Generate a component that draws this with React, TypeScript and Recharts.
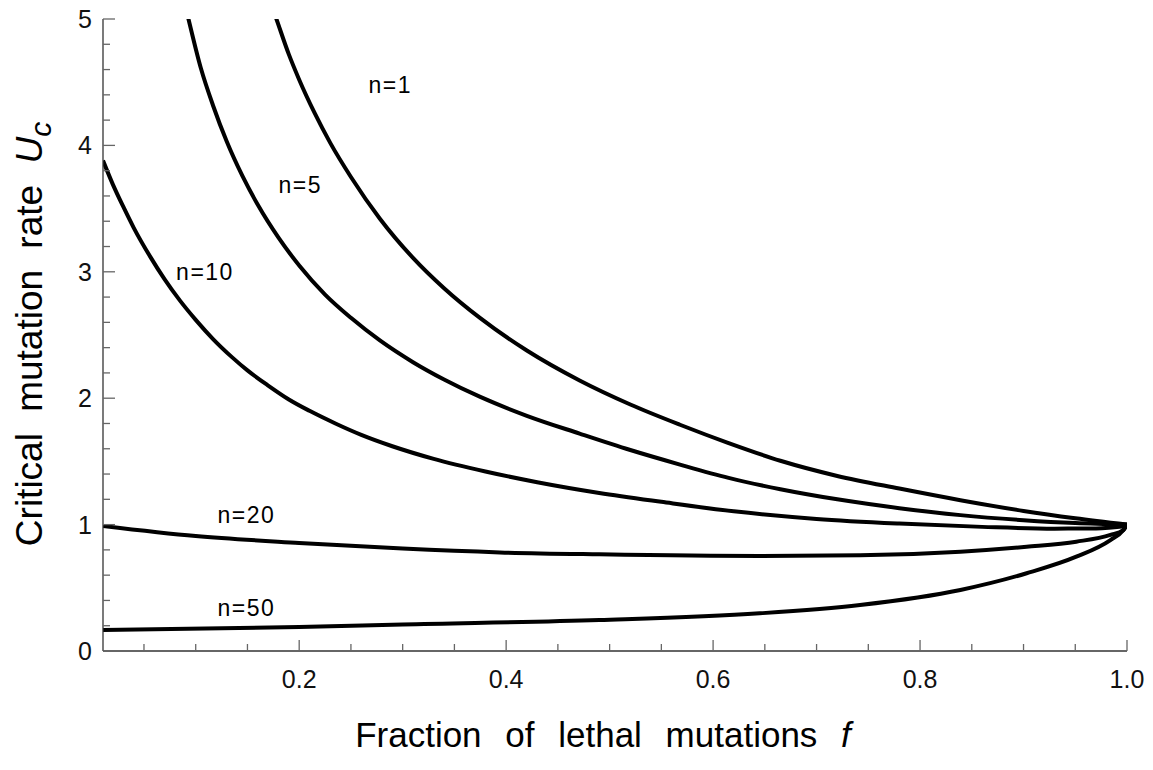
import React from 'react';
import { LineChart, Line, XAxis, YAxis, ReferenceDot, Label } from 'recharts';

// ---- data ----
const seriesNames = ['n=1', 'n=5', 'n=10', 'n=20', 'n=50'];

const n1F = [0.165, 0.178, 0.19, 0.2, 0.215, 0.23, 0.25, 0.278, 0.31, 0.34, 0.375, 0.42, 0.471, 0.52, 0.568, 0.615, 0.665, 0.72, 0.78, 0.839, 0.9, 0.95, 1.0];
const n1U = [5.3, 5.0, 4.72, 4.52, 4.255, 4.02, 3.75, 3.42, 3.11, 2.87, 2.633, 2.377, 2.14, 1.95, 1.79, 1.645, 1.505, 1.385, 1.285, 1.193, 1.108, 1.05, 1.0];

const n5F = [0.08, 0.093, 0.105, 0.117, 0.13, 0.145, 0.16, 0.18, 0.2, 0.225, 0.25, 0.278, 0.31, 0.34, 0.375, 0.42, 0.471, 0.52, 0.568, 0.615, 0.665, 0.72, 0.78, 0.839, 0.9, 0.95, 1.0];
const n5U = [5.45, 5.0, 4.61, 4.31, 4.03, 3.76, 3.53, 3.27, 3.05, 2.82, 2.636, 2.457, 2.285, 2.148, 2.01, 1.861, 1.72, 1.59, 1.475, 1.37, 1.28, 1.2, 1.13, 1.075, 1.035, 1.012, 1.0];

const n10F = [0.0104, 0.02, 0.03, 0.04, 0.056, 0.07, 0.085, 0.1, 0.117, 0.135, 0.15, 0.17, 0.19, 0.21, 0.235, 0.26, 0.29, 0.33, 0.38, 0.43, 0.49, 0.55, 0.62, 0.7, 0.78, 0.86, 0.93, 0.97, 1.0];
const n10U = [3.88, 3.69, 3.515, 3.35, 3.12, 2.94, 2.77, 2.62, 2.466, 2.325, 2.22, 2.1, 1.99, 1.9, 1.8, 1.71, 1.62, 1.52, 1.42, 1.335, 1.25, 1.18, 1.105, 1.045, 1.008, 0.982, 0.968, 0.97, 0.99];

const n20F = [0.0104, 0.1, 0.2, 0.3, 0.394, 0.49, 0.645, 0.742, 0.839, 0.903, 0.951, 0.984, 0.9965, 1.0];
const n20U = [0.99, 0.91, 0.855, 0.81, 0.78, 0.765, 0.752, 0.757, 0.786, 0.825, 0.865, 0.918, 0.957, 1.0];

const n50F = [0.0104, 0.2, 0.3, 0.49, 0.645, 0.742, 0.839, 0.903, 0.951, 0.984, 0.9965, 1.0];
const n50U = [0.166, 0.19, 0.21, 0.245, 0.298, 0.364, 0.483, 0.615, 0.746, 0.878, 0.957, 1.0];

const labelF = [0.288, 0.201, 0.109, 0.149, 0.149];
const labelU = [4.48, 3.69, 3.0, 1.076, 0.34];

const xTicks = [0.05, 0.1, 0.15, 0.2, 0.25, 0.3, 0.35, 0.4, 0.45, 0.5, 0.55, 0.6, 0.65, 0.7, 0.75, 0.8, 0.85, 0.9, 0.95, 1.0];
const yTicks = [0, 0.2, 0.4, 0.6, 0.8, 1, 1.2, 1.4, 1.6, 1.8, 2, 2.2, 2.4, 2.6, 2.8, 3, 3.2, 3.4, 3.6, 3.8, 4, 4.2, 4.4, 4.6, 4.8, 5];

const xTitle = 'Fraction of lethal mutations';
const xTitleVar = 'f';
const yTitle = 'Critical mutation rate';
const yTitleVar = 'U';
const yTitleSub = 'c';

const zip = (fs: number[], us: number[]) => fs.map((f, i) => ({ f, u: us[i] }));
const seriesData = [zip(n1F, n1U), zip(n5F, n5U), zip(n10F, n10U), zip(n20F, n20U), zip(n50F, n50U)];

const FONT = '"Liberation Sans", Arial, Helvetica, sans-serif';
const TICK_COLOR = '#666';
const AXIS_COLOR = '#333';

const XTick = (props: any) => {
  const { x, y, payload } = props;
  const v = payload.value as number;
  const major = Math.abs(v * 5 - Math.round(v * 5)) < 1e-6;
  return (
    <g>
      <line x1={x} y1={y} x2={x} y2={y - (major ? 11 : 7)} stroke={TICK_COLOR} strokeWidth={1.3} />
      {major && (
        <text x={x} y={y + 37} textAnchor="middle" fontSize={25} fill="#111" fontFamily={FONT}>
          {v.toFixed(1)}
        </text>
      )}
    </g>
  );
};

const YTick = (props: any) => {
  const { x, y, payload } = props;
  const v = payload.value as number;
  const major = Math.abs(v - Math.round(v)) < 1e-6;
  return (
    <g>
      <line x1={x} y1={y} x2={x + (major ? 12 : 7)} y2={y} stroke={TICK_COLOR} strokeWidth={1.3} />
      {major && (
        <text x={x - 11} y={y} textAnchor="end" dominantBaseline="central" fontSize={25} fill="#111" fontFamily={FONT}>
          {String(Math.round(v))}
        </text>
      )}
    </g>
  );
};

const XTitle = (props: any) => {
  const vb = props.viewBox || { x: 103, y: 651, width: 1024, height: 119 };
  const cx = vb.x + vb.width / 2 - 12;
  return (
    <text x={cx} y={vb.y + 96} textAnchor="middle" fontSize={35} fill="#000" fontFamily={FONT} style={{ wordSpacing: '14px' }}>
      {xTitle + ' '}
      <tspan fontStyle="italic">{xTitleVar}</tspan>
    </text>
  );
};

const YTitle = () => {
  const bx = 42;
  const cy = 334;
  return (
    <text x={bx} y={cy} transform={`rotate(-90, ${bx}, ${cy})`} textAnchor="middle" fontSize={37} fill="#000" fontFamily={FONT} style={{ wordSpacing: '11px' }}>
      {yTitle + ' '}
      <tspan fontStyle="italic">{yTitleVar}</tspan>
      <tspan fontStyle="italic" fontSize={30} dy={9}>{yTitleSub}</tspan>
    </text>
  );
};

export default function App() {
  return (
    <div style={{ position: 'absolute', left: 0, top: 0, width: 1153, height: 770, background: '#fff' }}>
      <LineChart width={1153} height={770} margin={{ top: 19, right: 26, left: 0, bottom: 0 }}>
        <XAxis
          type="number"
          dataKey="f"
          domain={[0.0104, 1]}
          allowDataOverflow
          ticks={xTicks}
          interval={0}
          tickLine={false}
          tickSize={0}
          tickMargin={0}
          axisLine={{ stroke: AXIS_COLOR, strokeWidth: 1.3 }}
          tick={<XTick />}
          height={119}
        >
          <Label content={<XTitle />} />
        </XAxis>
        <YAxis
          type="number"
          dataKey="u"
          domain={[0, 5]}
          allowDataOverflow
          ticks={yTicks}
          interval={0}
          tickLine={false}
          tickSize={0}
          tickMargin={0}
          axisLine={{ stroke: AXIS_COLOR, strokeWidth: 1.3 }}
          tick={<YTick />}
          width={103}
        >
          <Label content={<YTitle />} />
        </YAxis>
        {seriesData.map((d, i) => (
          <Line
            key={seriesNames[i]}
            data={d}
            dataKey="u"
            type="monotone"
            stroke="#000"
            strokeWidth={4}
            dot={false}
            activeDot={false}
            isAnimationActive={false}
          />
        ))}
        {seriesNames.map((name, i) => (
          <ReferenceDot
            key={'lbl' + name}
            x={labelF[i]}
            y={labelU[i]}
            r={0}
            fill="none"
            stroke="none"
            label={{ value: name, position: 'center', fontSize: 23, fill: '#000', fontFamily: FONT, style: { letterSpacing: '1.5px' } }}
          />
        ))}
      </LineChart>
    </div>
  );
}
